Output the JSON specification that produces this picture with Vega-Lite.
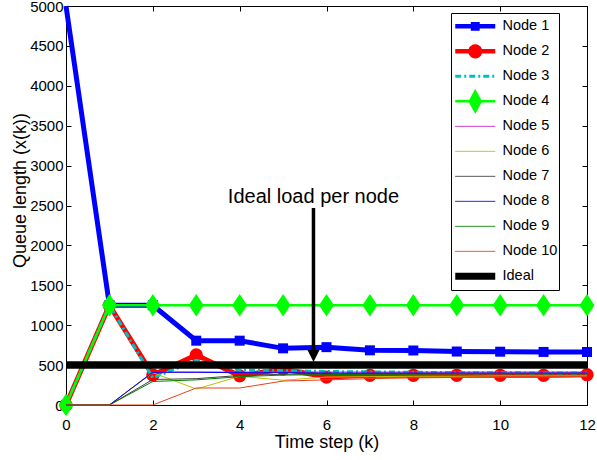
{
  "$schema": "https://vega.github.io/schema/vega-lite/v6.json",
  "width": 521,
  "height": 399,
  "autosize": {"type": "none"},
  "padding": {"left": 66, "top": 6, "right": 10, "bottom": 55},
  "background": "white",
  "config": {
    "view": {"stroke": "black", "strokeWidth": 1},
    "font": "Liberation Sans",
    "axis": {
      "grid": false,
      "domainColor": "black",
      "tickColor": "black",
      "tickSize": -5,
      "labelColor": "black",
      "labelFontSize": 15,
      "labelFont": "Liberation Sans",
      "labelFlush": false,
      "labelOverlap": false,
      "format": "d",
      "titleFont": "Liberation Sans",
      "titleFontSize": 18,
      "titleFontWeight": "normal",
      "titleColor": "black"
    }
  },
  "datasets": {
    "queue": [
      {"node": "Node 1", "k": 0, "q": 5000}, {"node": "Node 1", "k": 1, "q": 1250}, {"node": "Node 1", "k": 2, "q": 1250}, {"node": "Node 1", "k": 3, "q": 806}, {"node": "Node 1", "k": 4, "q": 806}, {"node": "Node 1", "k": 5, "q": 710}, {"node": "Node 1", "k": 6, "q": 725}, {"node": "Node 1", "k": 7, "q": 685}, {"node": "Node 1", "k": 8, "q": 683}, {"node": "Node 1", "k": 9, "q": 670}, {"node": "Node 1", "k": 10, "q": 668}, {"node": "Node 1", "k": 11, "q": 665}, {"node": "Node 1", "k": 12, "q": 664},
      {"node": "Node 2", "k": 0, "q": 0}, {"node": "Node 2", "k": 1, "q": 1250}, {"node": "Node 2", "k": 2, "q": 376}, {"node": "Node 2", "k": 3, "q": 627}, {"node": "Node 2", "k": 4, "q": 365}, {"node": "Node 2", "k": 5, "q": 450}, {"node": "Node 2", "k": 6, "q": 350}, {"node": "Node 2", "k": 7, "q": 372}, {"node": "Node 2", "k": 8, "q": 372}, {"node": "Node 2", "k": 9, "q": 372}, {"node": "Node 2", "k": 10, "q": 372}, {"node": "Node 2", "k": 11, "q": 372}, {"node": "Node 2", "k": 12, "q": 380},
      {"node": "Node 3", "k": 0, "q": 0}, {"node": "Node 3", "k": 1, "q": 1250}, {"node": "Node 3", "k": 2, "q": 340}, {"node": "Node 3", "k": 3, "q": 560}, {"node": "Node 3", "k": 4, "q": 440}, {"node": "Node 3", "k": 5, "q": 430}, {"node": "Node 3", "k": 6, "q": 420}, {"node": "Node 3", "k": 7, "q": 415}, {"node": "Node 3", "k": 8, "q": 410}, {"node": "Node 3", "k": 9, "q": 405}, {"node": "Node 3", "k": 10, "q": 405}, {"node": "Node 3", "k": 11, "q": 400}, {"node": "Node 3", "k": 12, "q": 400},
      {"node": "Node 4", "k": 0, "q": 0}, {"node": "Node 4", "k": 1, "q": 1250}, {"node": "Node 4", "k": 2, "q": 1250}, {"node": "Node 4", "k": 3, "q": 1250}, {"node": "Node 4", "k": 4, "q": 1250}, {"node": "Node 4", "k": 5, "q": 1250}, {"node": "Node 4", "k": 6, "q": 1250}, {"node": "Node 4", "k": 7, "q": 1250}, {"node": "Node 4", "k": 8, "q": 1250}, {"node": "Node 4", "k": 9, "q": 1250}, {"node": "Node 4", "k": 10, "q": 1250}, {"node": "Node 4", "k": 11, "q": 1250}, {"node": "Node 4", "k": 12, "q": 1250},
      {"node": "Node 5", "k": 0, "q": 0}, {"node": "Node 5", "k": 1, "q": 0}, {"node": "Node 5", "k": 2, "q": 413}, {"node": "Node 5", "k": 3, "q": 413}, {"node": "Node 5", "k": 4, "q": 413}, {"node": "Node 5", "k": 5, "q": 413}, {"node": "Node 5", "k": 6, "q": 413}, {"node": "Node 5", "k": 7, "q": 413}, {"node": "Node 5", "k": 8, "q": 413}, {"node": "Node 5", "k": 9, "q": 413}, {"node": "Node 5", "k": 10, "q": 413}, {"node": "Node 5", "k": 11, "q": 413}, {"node": "Node 5", "k": 12, "q": 413},
      {"node": "Node 6", "k": 0, "q": 0}, {"node": "Node 6", "k": 1, "q": 0}, {"node": "Node 6", "k": 2, "q": 405}, {"node": "Node 6", "k": 3, "q": 200}, {"node": "Node 6", "k": 4, "q": 360}, {"node": "Node 6", "k": 5, "q": 310}, {"node": "Node 6", "k": 6, "q": 350}, {"node": "Node 6", "k": 7, "q": 355}, {"node": "Node 6", "k": 8, "q": 360}, {"node": "Node 6", "k": 9, "q": 360}, {"node": "Node 6", "k": 10, "q": 365}, {"node": "Node 6", "k": 11, "q": 365}, {"node": "Node 6", "k": 12, "q": 365},
      {"node": "Node 7", "k": 0, "q": 0}, {"node": "Node 7", "k": 1, "q": 0}, {"node": "Node 7", "k": 2, "q": 320}, {"node": "Node 7", "k": 3, "q": 330}, {"node": "Node 7", "k": 4, "q": 370}, {"node": "Node 7", "k": 5, "q": 385}, {"node": "Node 7", "k": 6, "q": 390}, {"node": "Node 7", "k": 7, "q": 395}, {"node": "Node 7", "k": 8, "q": 395}, {"node": "Node 7", "k": 9, "q": 395}, {"node": "Node 7", "k": 10, "q": 395}, {"node": "Node 7", "k": 11, "q": 395}, {"node": "Node 7", "k": 12, "q": 395},
      {"node": "Node 8", "k": 0, "q": 0}, {"node": "Node 8", "k": 1, "q": 0}, {"node": "Node 8", "k": 2, "q": 410}, {"node": "Node 8", "k": 3, "q": 410}, {"node": "Node 8", "k": 4, "q": 405}, {"node": "Node 8", "k": 5, "q": 405}, {"node": "Node 8", "k": 6, "q": 400}, {"node": "Node 8", "k": 7, "q": 400}, {"node": "Node 8", "k": 8, "q": 400}, {"node": "Node 8", "k": 9, "q": 400}, {"node": "Node 8", "k": 10, "q": 400}, {"node": "Node 8", "k": 11, "q": 400}, {"node": "Node 8", "k": 12, "q": 400},
      {"node": "Node 9", "k": 0, "q": 0}, {"node": "Node 9", "k": 1, "q": 0}, {"node": "Node 9", "k": 2, "q": 295}, {"node": "Node 9", "k": 3, "q": 315}, {"node": "Node 9", "k": 4, "q": 355}, {"node": "Node 9", "k": 5, "q": 375}, {"node": "Node 9", "k": 6, "q": 380}, {"node": "Node 9", "k": 7, "q": 385}, {"node": "Node 9", "k": 8, "q": 385}, {"node": "Node 9", "k": 9, "q": 390}, {"node": "Node 9", "k": 10, "q": 390}, {"node": "Node 9", "k": 11, "q": 390}, {"node": "Node 9", "k": 12, "q": 390},
      {"node": "Node 10", "k": 0, "q": 0}, {"node": "Node 10", "k": 1, "q": 0}, {"node": "Node 10", "k": 2, "q": 0}, {"node": "Node 10", "k": 3, "q": 213}, {"node": "Node 10", "k": 4, "q": 213}, {"node": "Node 10", "k": 5, "q": 300}, {"node": "Node 10", "k": 6, "q": 315}, {"node": "Node 10", "k": 7, "q": 330}, {"node": "Node 10", "k": 8, "q": 340}, {"node": "Node 10", "k": 9, "q": 345}, {"node": "Node 10", "k": 10, "q": 350}, {"node": "Node 10", "k": 11, "q": 350}, {"node": "Node 10", "k": 12, "q": 355},
      {"node": "Ideal", "k": 0, "q": 500}, {"node": "Ideal", "k": 12, "q": 500}
    ],
    "note": [{"k": 5.7, "q": 2531, "label": "Ideal load per node"}],
    "arrow": [{"k": 5.7, "q": 2469, "q2": 660}],
    "head": [{"k": 5.7, "q": 614}]
  },
  "data": {"name": "queue"},
  "layer": [
    {
      "transform": [{"filter": "datum.node === 'Node 1'"}],
      "mark": {"type": "line", "strokeWidth": 5},
      "encoding": {
        "x": {"field": "k", "type": "quantitative", "scale": {"domain": [0, 12], "nice": false},
          "axis": {"orient": "bottom", "values": [0, 2, 4, 6, 8, 10, 12], "title": "Time step (k)", "labelPadding": 17, "titleY": 42, "titleBaseline": "alphabetic"}},
        "y": {"field": "q", "type": "quantitative", "scale": {"domain": [0, 5000], "nice": false},
          "axis": {"orient": "left", "values": [0, 500, 1000, 1500, 2000, 2500, 3000, 3500, 4000, 4500, 5000], "title": "Queue length (x(k))", "labelPadding": 8, "titleX": -41, "titleY": 184, "titleBaseline": "alphabetic", "titleAngle": -90, "titleAlign": "center"}},
        "color": {"field": "node", "type": "nominal",
          "scale": {"domain": ["Node 1", "Node 2", "Node 3", "Node 4", "Node 5", "Node 6", "Node 7", "Node 8", "Node 9", "Node 10", "Ideal"],
                    "range": ["#0000ff", "#ff0000", "#00bfbf", "#00ff00", "#c020c0", "#bfbf00", "#404040", "#0000ff", "#008000", "#e8401c", "#000000"]},
          "legend": {
            "title": null, "orient": "none", "legendX": 385, "legendY": 7,
            "strokeColor": "black", "fillColor": "white", "padding": 1, "rowPadding": 0,
            "clipHeight": 24.7, "symbolSize": 1600, "symbolOffset": 16, "labelOffset": 20,
            "labelFontSize": 14.5, "labelFont": "Liberation Sans", "labelColor": "black",
            "labelExpr": "datum.label + '\u00a0\u00a0\u00a0'",
            "encode": {"symbols": {"update": {
              "shape": {"signal": "datum.value === 'Node 1' ? 'M-1,0H1M-0.11,-0.11H0.11V0.11H-0.11Z' : datum.value === 'Node 2' ? 'M-1,0H1M-0.24,0A0.24,0.24,0,1,1,0.24,0A0.24,0.24,0,1,1,-0.24,0Z' : datum.value === 'Node 4' ? 'M-1,0H1M0,-0.5L0.27,0L0,0.5L-0.27,0Z' : 'M-1,0H1'"},
              "fill": {"signal": "datum.value === 'Node 1' ? '#0000ff' : datum.value === 'Node 2' ? '#ff0000' : datum.value === 'Node 4' ? '#00ff00' : 'transparent'"},
              "stroke": {"scale": "color", "field": "value"},
              "strokeWidth": {"signal": "datum.value === 'Ideal' ? 7 : (datum.value === 'Node 1' || datum.value === 'Node 2') ? 4.5 : datum.value === 'Node 3' ? 3 : datum.value === 'Node 4' ? 2.5 : 1"},
              "strokeDash": {"signal": "datum.value === 'Node 3' ? [6, 3, 2, 3] : [1, 0]"},
              "opacity": {"value": 1}
            }}}
          }}
      }
    },
    {
      "transform": [{"filter": "datum.node === 'Node 1' && datum.k > 0"}],
      "mark": {"type": "point", "filled": true, "shape": "square", "size": 100, "opacity": 1},
      "encoding": {
        "x": {"field": "k", "type": "quantitative", "axis": {"orient": "top", "labels": false, "title": null, "values": [0, 2, 4, 6, 8, 10, 12]}},
        "y": {"field": "q", "type": "quantitative", "axis": {"orient": "right", "labels": false, "title": null, "values": [0, 500, 1000, 1500, 2000, 2500, 3000, 3500, 4000, 4500, 5000]}},
        "color": {"field": "node", "type": "nominal"}
      }
    },
    {
      "transform": [{"filter": "datum.node === 'Node 2'"}],
      "mark": {"type": "line", "strokeWidth": 5},
      "encoding": {
        "x": {"field": "k", "type": "quantitative", "axis": null},
        "y": {"field": "q", "type": "quantitative", "axis": null},
        "color": {"field": "node", "type": "nominal"}
      }
    },
    {
      "transform": [{"filter": "datum.node === 'Node 2'"}],
      "mark": {"type": "point", "filled": true, "shape": "circle", "size": 177, "opacity": 1},
      "encoding": {
        "x": {"field": "k", "type": "quantitative", "axis": null},
        "y": {"field": "q", "type": "quantitative", "axis": null},
        "color": {"field": "node", "type": "nominal"}
      }
    },
    {
      "transform": [{"filter": "datum.node === 'Node 3'"}],
      "mark": {"type": "line", "strokeWidth": 3, "strokeDash": [6, 3, 2, 3]},
      "encoding": {
        "x": {"field": "k", "type": "quantitative", "axis": null},
        "y": {"field": "q", "type": "quantitative", "axis": null},
        "color": {"field": "node", "type": "nominal"}
      }
    },
    {
      "transform": [{"filter": "datum.node === 'Node 4'"}],
      "mark": {"type": "line", "strokeWidth": 2.5},
      "encoding": {
        "x": {"field": "k", "type": "quantitative", "axis": null},
        "y": {"field": "q", "type": "quantitative", "axis": null},
        "color": {"field": "node", "type": "nominal"}
      }
    },
    {
      "transform": [{"filter": "datum.node === 'Node 4'"}],
      "mark": {"type": "point", "filled": true, "shape": "M0,-1.5L1,0L0,1.5L-1,0Z", "size": 225, "opacity": 1},
      "encoding": {
        "x": {"field": "k", "type": "quantitative", "axis": null},
        "y": {"field": "q", "type": "quantitative", "axis": null},
        "color": {"field": "node", "type": "nominal"}
      }
    },
    {
      "transform": [{"filter": "indexof(['Node 5', 'Node 6', 'Node 7', 'Node 8', 'Node 9', 'Node 10'], datum.node) >= 0"}],
      "mark": {"type": "line", "strokeWidth": 1},
      "encoding": {
        "x": {"field": "k", "type": "quantitative", "axis": null},
        "y": {"field": "q", "type": "quantitative", "axis": null},
        "color": {"field": "node", "type": "nominal"}
      }
    },
    {
      "transform": [{"filter": "datum.node === 'Ideal'"}],
      "mark": {"type": "line", "strokeWidth": 7.5, "strokeCap": "butt"},
      "encoding": {
        "x": {"field": "k", "type": "quantitative", "axis": null},
        "y": {"field": "q", "type": "quantitative", "axis": null},
        "color": {"field": "node", "type": "nominal"}
      }
    },
    {
      "data": {"name": "arrow"},
      "mark": {"type": "rule", "strokeWidth": 3.5, "color": "black"},
      "encoding": {
        "x": {"field": "k", "type": "quantitative", "axis": null},
        "y": {"field": "q", "type": "quantitative", "axis": null},
        "y2": {"field": "q2"}
      }
    },
    {
      "data": {"name": "head"},
      "mark": {"type": "point", "filled": true, "shape": "M-1,-1H1L0,1Z", "size": 144, "color": "black", "opacity": 1},
      "encoding": {
        "x": {"field": "k", "type": "quantitative", "axis": null},
        "y": {"field": "q", "type": "quantitative", "axis": null}
      }
    },
    {
      "data": {"name": "note"},
      "mark": {"type": "text", "fontSize": 20, "font": "Liberation Sans", "baseline": "alphabetic", "align": "center", "color": "black"},
      "encoding": {
        "x": {"field": "k", "type": "quantitative", "axis": null},
        "y": {"field": "q", "type": "quantitative", "axis": null},
        "text": {"field": "label"}
      }
    }
  ],
  "resolve": {"axis": {"x": "independent", "y": "independent"}}
}
